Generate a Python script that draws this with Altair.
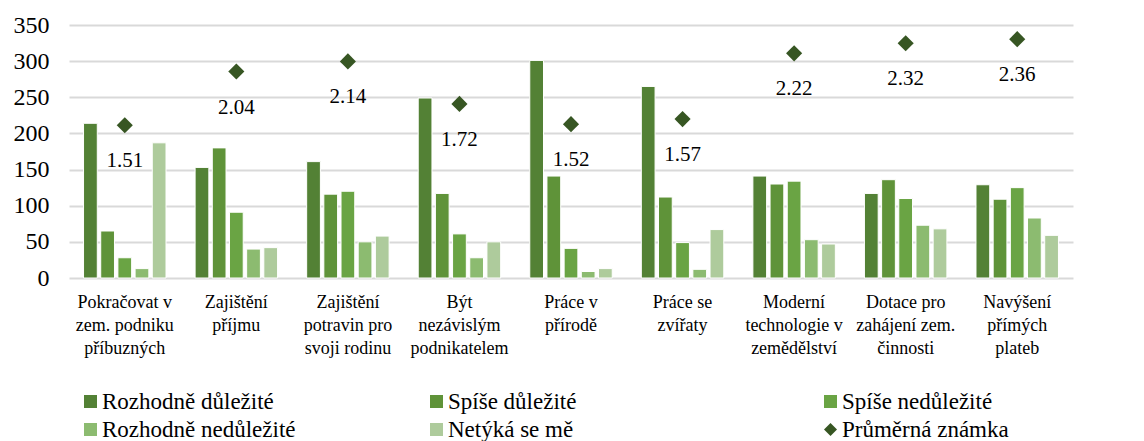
import altair as alt
import pandas as pd

categories = [
    "Pokračovat v\nzem. podniku\npříbuzných",
    "Zajištění\npříjmu",
    "Zajištění\npotravin pro\nsvoji rodinu",
    "Být\nnezávislým\npodnikatelem",
    "Práce v\npřírodě",
    "Práce se\nzvířaty",
    "Moderní\ntechnologie v\nzemědělství",
    "Dotace pro\nzahájení zem.\nčinnosti",
    "Navýšení\npřímých\nplateb",
]
series_names = [
    "Rozhodně důležité",
    "Spíše důležité",
    "Spíše nedůležité",
    "Rozhodně nedůležité",
    "Netýká se mě",
]
avg_name = "Průměrná známka"

rozhodne_dulezite = [214, 153, 161, 249, 301, 265, 141, 117, 129]
spise_dulezite = [65, 180, 116, 117, 141, 112, 130, 136, 109]
spise_nedulezite = [28, 91, 120, 61, 41, 49, 134, 110, 125]
rozhodne_nedulezite = [13, 40, 50, 28, 9, 12, 53, 73, 83]
netyka_se_me = [187, 42, 58, 50, 13, 67, 47, 68, 59]
prumerna_znamka = [1.51, 2.04, 2.14, 1.72, 1.52, 1.57, 2.22, 2.32, 2.36]

bar_colors = ["#538135", "#5f9339", "#6aa444", "#8cbb70", "#aecb9c"]
avg_color = "#375623"

rows = []
for s, vals in zip(series_names, [rozhodne_dulezite, spise_dulezite, spise_nedulezite,
                                  rozhodne_nedulezite, netyka_se_me]):
    for c, v in zip(categories, vals):
        rows.append({"cat": c, "series": s, "value": v})
bars_df = pd.DataFrame(rows)
avg_df = pd.DataFrame({"cat": categories, "series": avg_name, "avg": prumerna_znamka})
legend_df = pd.DataFrame({"series": series_names + [avg_name]})

FONT = "Liberation Serif"


def make_legend(x):
    return alt.Legend(
        title=None,
        orient="none",
        legendX=x,
        legendY=365,
        direction="vertical",
        rowPadding=4,
        padding=0,
        labelFont=FONT,
        labelFontSize=23,
        labelColor="#000000",
        labelOffset=0,
        symbolSize=169,
        symbolStrokeWidth=0,
        labelLimit=400,
    )


x_enc = alt.X(
    "cat:N",
    sort=categories,
    title=None,
    scale=alt.Scale(paddingInner=0.23, paddingOuter=0.115),
    axis=alt.Axis(
        labelExpr="split(datum.label, '\\n')",
        labelAngle=0,
        labelFontSize=18,
        labelFont=FONT,
        labelColor="#000000",
        labelLineHeight=23,
        labelPadding=15,
        ticks=False,
        domain=False,
        labelLimit=200,
    ),
)

leg1 = make_legend(10)
leg1["values"] = [series_names[0], series_names[3]]

bars = alt.Chart(bars_df).mark_bar(stroke="white", strokeWidth=1).encode(
    x=x_enc,
    xOffset=alt.XOffset("series:N", sort=series_names,
                        scale=alt.Scale(paddingInner=0.2, paddingOuter=0.1)),
    y=alt.Y(
        "value:Q",
        title=None,
        scale=alt.Scale(domain=[0, 350], nice=False),
        axis=alt.Axis(
            values=[0, 50, 100, 150, 200, 250, 300, 350],
            labelFontSize=24,
            labelFont=FONT,
            labelColor="#000000",
            labelPadding=20,
            ticks=False,
            domain=False,
            gridColor="#d9d9d9",
            gridWidth=2,
        ),
    ),
    color=alt.Color("series:N",
                    scale=alt.Scale(domain=series_names, range=bar_colors),
                    legend=leg1),
)

points = alt.Chart(avg_df).mark_point(
    filled=True, size=260, opacity=1, shape="diamond", color=avg_color
).encode(
    x=alt.X("cat:N", sort=categories),
    y=alt.Y(
        "avg:Q",
        title=None,
        scale=alt.Scale(domain=[0, 2.5], nice=False),
        axis=alt.Axis(
            orient="right",
            values=[0, 0.5, 1.0, 1.5, 2.0, 2.5],
            format=".2f",
            labelFontSize=24,
            labelFont=FONT,
            labelColor="#000000",
            labelPadding=20,
            ticks=False,
            domain=False,
            grid=False,
        ),
    ),
)

labels = alt.Chart(avg_df).mark_text(
    dy=36, fontSize=21, font=FONT, color="#000000"
).encode(
    x=alt.X("cat:N", sort=categories),
    y=alt.Y("avg:Q", scale=alt.Scale(domain=[0, 2.5], nice=False), axis=None),
    text=alt.Text("avg:Q", format=".2f"),
)

# legend-only layers (their rows are filtered out, the legends come from the scale domains)
dom2 = [series_names[1], series_names[4]]
legend_col2 = alt.Chart(legend_df).transform_filter("false").mark_point(
    filled=True, shape="square", opacity=1
).encode(
    color=alt.Color("series:N",
                    scale=alt.Scale(domain=dom2, range=[bar_colors[1], bar_colors[4]]),
                    legend=make_legend(356)),
)

dom3 = [series_names[2], avg_name]
legend_col3 = alt.Chart(legend_df).transform_filter("false").mark_point(
    filled=True, opacity=1
).encode(
    color=alt.Color("series:N",
                    scale=alt.Scale(domain=dom3, range=[bar_colors[2], avg_color]),
                    legend=make_legend(750)),
    shape=alt.Shape("series:N",
                    scale=alt.Scale(domain=dom3, range=["square", "diamond"]),
                    legend=make_legend(750)),
)

chart = alt.layer(
    bars, alt.layer(points, labels), legend_col2, legend_col3
).resolve_scale(
    y="independent", color="independent", shape="independent"
).resolve_legend(
    color="independent", shape="independent"
).properties(
    width=1004,
    height=253,
).configure(
    background="white",
    font=FONT,
).configure_view(
    stroke=None
).configure_text(
    font=FONT
)

chart.save("out.html", embed_options={"renderer": "svg", "actions": False})
